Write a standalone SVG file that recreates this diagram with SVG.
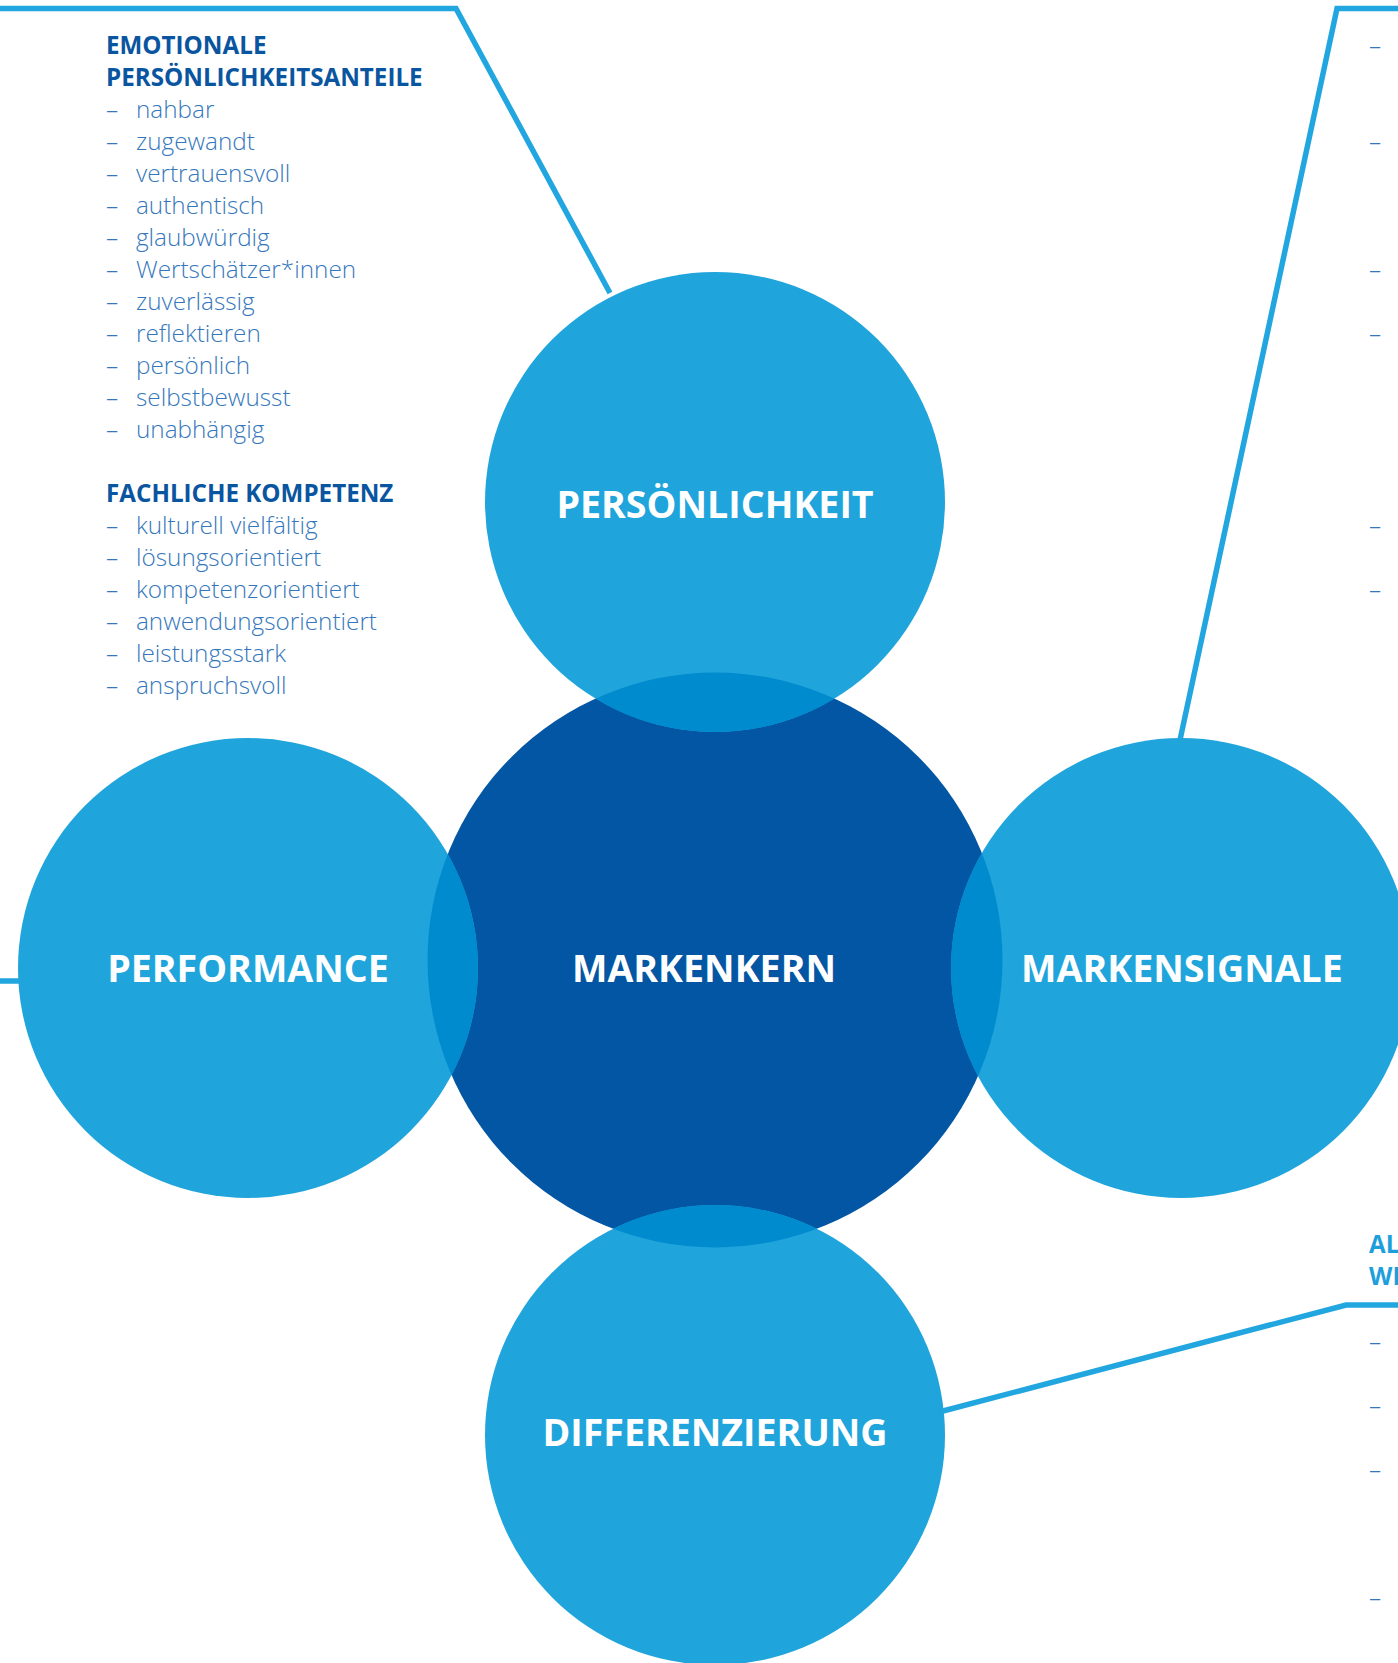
<svg xmlns="http://www.w3.org/2000/svg" width="1398" height="1663" viewBox="0 0 1398 1663">
<style>
.light{fill:#20A4DC}
.dark{fill:#0356A3}
.lens{fill:#008BCF}
.lbl{font-family:"Open Sans","Liberation Sans",sans-serif;font-weight:700;font-size:37.6px;fill:#FFFFFF;text-anchor:middle}
.hd{font-family:"Open Sans","Liberation Sans",sans-serif;font-weight:700;font-size:24.2px;fill:#0A55A0}
.hd2{font-family:"Open Sans","Liberation Sans",sans-serif;font-weight:700;font-size:24.2px;fill:#1E9FDB}
.it{font-family:"Open Sans","Liberation Sans",sans-serif;font-weight:300;font-size:24.3px;fill:#3677BC}
.conn{fill:none;stroke:#22A6DF;stroke-width:5.5;stroke-linejoin:miter}
</style>
<defs>
<clipPath id="cpP"><circle cx="715" cy="502" r="230"/></clipPath>
<clipPath id="cpF"><circle cx="248" cy="968" r="230"/></clipPath>
<clipPath id="cpS"><circle cx="1181" cy="968" r="230"/></clipPath>
<clipPath id="cpD"><circle cx="715" cy="1435" r="230"/></clipPath>
</defs>
<rect width="1398" height="1663" fill="#FFFFFF"/>
<g id="connectors">
<polyline class="conn" points="0,8.5 456,8.5 610,293"/>
<polyline class="conn" points="1398,8.5 1337,8.5 1180,740"/>
<polyline class="conn" points="0,981 20,981"/>
<polyline class="conn" points="943,1411 1346,1305 1398,1305"/>
</g>
<g id="markenkern">
<circle class="dark" cx="715" cy="960" r="287.5"/>
</g>
<g id="persoenlichkeit">
<circle class="light" cx="715" cy="502" r="230"/>
<circle class="lens" cx="715" cy="960" r="287.5" clip-path="url(#cpP)"/>
<text class="lbl" x="715" y="517.5">PERSÖNLICHKEIT</text>
</g>
<g id="performance">
<circle class="light" cx="248" cy="968" r="230"/>
<circle class="lens" cx="715" cy="960" r="287.5" clip-path="url(#cpF)"/>
<text class="lbl" x="248" y="981.5">PERFORMANCE</text>
</g>
<g id="markensignale">
<circle class="light" cx="1181" cy="968" r="230"/>
<circle class="lens" cx="715" cy="960" r="287.5" clip-path="url(#cpS)"/>
<text class="lbl" x="1182" y="981.5">MARKENSIGNALE</text>
</g>
<g id="differenzierung">
<circle class="light" cx="715" cy="1435" r="230"/>
<circle class="lens" cx="715" cy="960" r="287.5" clip-path="url(#cpD)"/>
<text class="lbl" x="715" y="1446">DIFFERENZIERUNG</text>
</g>
<g id="markenkern-label">
<text class="lbl" x="704" y="981.5">MARKENKERN</text>
</g>
<g id="text-persoenlichkeit">
<text class="hd" x="106" y="54">EMOTIONALE</text>
<text class="hd" x="106" y="86">PERSÖNLICHKEITSANTEILE</text>
<g class="it">
<text x="106" y="118">–</text><text x="136" y="118">nahbar</text>
<text x="106" y="150">–</text><text x="136" y="150">zugewandt</text>
<text x="106" y="182">–</text><text x="136" y="182">vertrauensvoll</text>
<text x="106" y="214">–</text><text x="136" y="214">authentisch</text>
<text x="106" y="246">–</text><text x="136" y="246">glaubwürdig</text>
<text x="106" y="278">–</text><text x="136" y="278">Wertschätzer*innen</text>
<text x="106" y="310">–</text><text x="136" y="310">zuverlässig</text>
<text x="106" y="342">–</text><text x="136" y="342">reflektieren</text>
<text x="106" y="374">–</text><text x="136" y="374">persönlich</text>
<text x="106" y="406">–</text><text x="136" y="406">selbstbewusst</text>
<text x="106" y="438">–</text><text x="136" y="438">unabhängig</text>
</g>
<text class="hd" x="106" y="502">FACHLICHE KOMPETENZ</text>
<g class="it">
<text x="106" y="534">–</text><text x="136" y="534">kulturell vielfältig</text>
<text x="106" y="566">–</text><text x="136" y="566">lösungsorientiert</text>
<text x="106" y="598">–</text><text x="136" y="598">kompetenzorientiert</text>
<text x="106" y="630">–</text><text x="136" y="630">anwendungsorientiert</text>
<text x="106" y="662">–</text><text x="136" y="662">leistungsstark</text>
<text x="106" y="694">–</text><text x="136" y="694">anspruchsvoll</text>
</g>
</g>
<g id="text-markensignale" class="it">
<text x="1369" y="54">–</text>
<text x="1369" y="150">–</text>
<text x="1369" y="278">–</text>
<text x="1369" y="342">–</text>
<text x="1369" y="534">–</text>
<text x="1369" y="598">–</text>
</g>
<g id="text-differenzierung">
<text class="hd2" x="1369" y="1253">AL</text>
<text class="hd2" x="1369" y="1285">WI</text>
<g class="it">
<text x="1369" y="1350">–</text>
<text x="1369" y="1414">–</text>
<text x="1369" y="1478">–</text>
<text x="1369" y="1606">–</text>
</g>
</g>
</svg>
